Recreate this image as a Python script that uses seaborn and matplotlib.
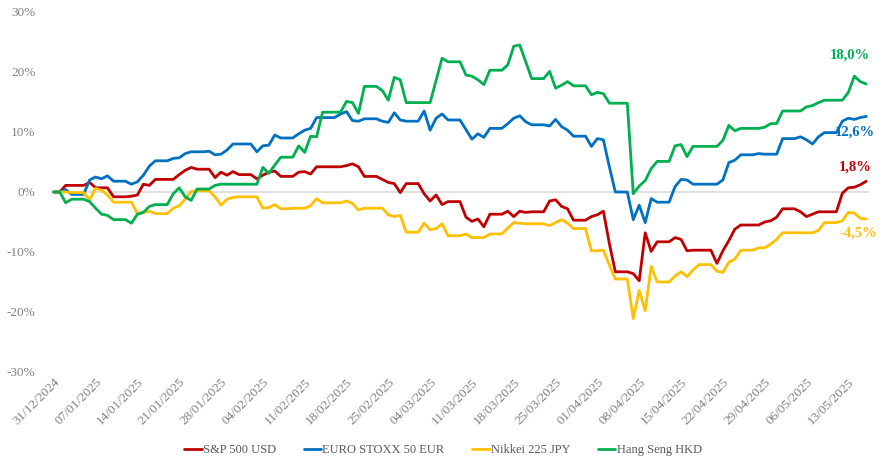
import pandas as pd
import numpy as np
import seaborn as sns
import matplotlib.pyplot as plt
import matplotlib.dates as mdates
from matplotlib.ticker import MultipleLocator, FuncFormatter

# daily performance since 31/12/2024, in %
sp500 = [0, 0, 1.1, 1.1, 1.1, 1.1, 1.6, 0.7, 0.7, 0.7, -0.8, -0.8, -0.8, -0.7,
         -0.5, 1.3, 1.1, 2.1, 2.1, 2.1, 2.1, 2.9, 3.6, 4.1, 3.8, 3.8, 3.8, 2.4,
         3.3, 2.8, 3.4, 2.9, 2.9, 2.9, 2.2, 2.8, 3.3, 3.5, 2.6, 2.6, 2.6, 3.3,
         3.4, 3.0, 4.2, 4.2, 4.2, 4.2, 4.2, 4.4, 4.7, 4.2, 2.6, 2.6, 2.6, 2.1,
         1.6, 1.4, -0.1, 1.4, 1.4, 1.4, -0.3, -1.5, -0.5, -2.1, -1.6, -1.6, -1.6, -4.2,
         -4.9, -4.5, -5.8, -3.7, -3.7, -3.7, -3.2, -4.1, -3.2, -3.4, -3.3, -3.3, -3.3, -1.5,
         -1.3, -2.4, -2.8, -4.7, -4.7, -4.7, -4.1, -3.8, -3.2, -8.6, -13.3, -13.3, -13.3, -13.6,
         -14.8, -6.8, -9.9, -8.3, -8.3, -8.3, -7.6, -7.9, -9.8, -9.7, -9.7, -9.7, -9.7, -11.9,
         -9.8, -8.1, -6.2, -5.5, -5.5, -5.5, -5.5, -5.0, -4.8, -4.2, -2.8, -2.8, -2.8, -3.3,
         -4.1, -3.7, -3.3, -3.3, -3.3, -3.3, -0.2, 0.7, 0.8, 1.2, 1.8]

stoxx50 = [0, 0, 0.4, -0.4, -0.4, -0.4, 2.0, 2.5, 2.2, 2.7, 1.8, 1.8, 1.8, 1.3,
           1.7, 2.8, 4.3, 5.2, 5.2, 5.2, 5.6, 5.7, 6.4, 6.7, 6.7, 6.7, 6.8, 6.2,
           6.3, 7.0, 8.0, 8.0, 8.0, 8.0, 6.7, 7.7, 7.8, 9.5, 9.0, 9.0, 9.0, 9.7,
           10.3, 10.6, 12.4, 12.4, 12.4, 12.4, 13.0, 13.4, 11.9, 11.8, 12.2, 12.2, 12.2, 11.8,
           11.6, 13.2, 12.0, 11.8, 11.8, 11.8, 13.5, 10.3, 12.3, 13.0, 12.0, 12.0, 12.0, 10.4,
           8.8, 9.7, 9.1, 10.6, 10.6, 10.6, 11.4, 12.3, 12.7, 11.7, 11.2, 11.2, 11.2, 11.0,
           12.1, 10.9, 10.3, 9.3, 9.3, 9.3, 7.6, 8.9, 8.7, 4.2, 0, 0, 0, -4.6,
           -2.2, -5.1, -1.1, -1.7, -1.7, -1.7, 0.9, 2.1, 2.0, 1.3, 1.3, 1.3, 1.3, 1.3,
           2.0, 4.9, 5.3, 6.2, 6.2, 6.2, 6.4, 6.3, 6.3, 6.3, 8.9, 8.9, 8.9, 9.2,
           8.7, 8.0, 9.2, 9.9, 9.9, 9.9, 11.8, 12.3, 12.1, 12.4, 12.6]

nikkei = [0, 0, 0, -0.1, -0.1, -0.1, -1.3, 0.6, 0.3, -0.5, -1.7, -1.7, -1.7, -1.7,
          -3.6, -3.4, -3.2, -3.6, -3.6, -3.6, -2.7, -2.3, -1.2, 0.1, 0.2, 0.2, 0.2, -0.8,
          -2.2, -1.2, -0.9, -0.8, -0.8, -0.8, -0.8, -2.7, -2.6, -2.1, -2.8, -2.8, -2.7, -2.7,
          -2.7, -2.3, -1.1, -1.8, -1.8, -1.8, -1.8, -1.5, -1.9, -3.0, -2.7, -2.7, -2.7, -2.7,
          -3.8, -4.1, -3.9, -6.7, -6.7, -6.7, -5.2, -6.3, -6.1, -5.3, -7.3, -7.3, -7.3, -7.0,
          -7.6, -7.6, -7.6, -7.0, -7.0, -7.0, -6.0, -5.1, -5.2, -5.3, -5.3, -5.3, -5.3, -5.6,
          -5.1, -4.6, -5.2, -6.1, -6.1, -6.1, -9.8, -9.8, -9.7, -12.2, -14.5, -14.5, -14.5, -21.1,
          -16.4, -19.8, -12.4, -15.0, -15.0, -15.0, -14.0, -13.3, -14.1, -13.0, -12.1, -12.1, -12.1, -13.2,
          -13.4, -11.7, -11.2, -9.7, -9.7, -9.7, -9.3, -9.3, -8.7, -7.9, -6.8, -6.8, -6.8, -6.8,
          -6.8, -6.8, -6.4, -5.1, -5.1, -5.1, -4.8, -3.4, -3.5, -4.4, -4.5]

hangseng = [0, 0, -1.8, -1.2, -1.2, -1.2, -1.6, -2.7, -3.7, -3.9, -4.6, -4.6, -4.6, -5.2,
            -3.7, -3.4, -2.4, -2.1, -2.1, -2.1, -0.3, 0.7, -0.8, -1.4, 0.5, 0.5, 0.5, 1.1,
            1.3, 1.3, 1.3, 1.3, 1.3, 1.3, 1.3, 4.1, 3.1, 4.5, 5.8, 5.8, 5.8, 7.7,
            6.6, 9.3, 9.2, 13.3, 13.3, 13.3, 13.3, 15.1, 14.9, 13.1, 17.6, 17.6, 17.6, 16.9,
            15.3, 19.1, 18.7, 14.9, 14.9, 14.9, 14.9, 14.9, 18.6, 22.3, 21.7, 21.7, 21.7, 19.5,
            19.3, 18.7, 17.9, 20.3, 20.3, 20.3, 21.2, 24.3, 24.5, 21.7, 18.9, 18.9, 18.9, 20.1,
            17.3, 17.8, 18.4, 17.7, 17.7, 17.7, 16.2, 16.6, 16.4, 14.8, 14.8, 14.8, 14.8, -0.3,
            1.0, 1.9, 3.9, 5.1, 5.1, 5.1, 7.7, 7.9, 5.9, 7.6, 7.6, 7.6, 7.6, 7.6,
            8.6, 11.1, 10.2, 10.6, 10.6, 10.6, 10.6, 10.8, 11.4, 11.4, 13.5, 13.5, 13.5, 13.5,
            14.2, 14.4, 14.9, 15.3, 15.3, 15.3, 15.3, 16.6, 19.3, 18.4, 18.0]

names = ['S&P 500 USD', 'EURO STOXX 50 EUR', 'Nikkei 225 JPY', 'Hang Seng HKD']
colors = ['#C00000', '#0070C0', '#FFC000', '#00B050']
end_labels = ['1,8%', '12,6%', '-4,5%', '18,0%']
label_offsets = [(-11, 14), (-11, -16), (-8, -14), (-16, 29)]

dates = pd.date_range('2024-12-31', periods=len(sp500), freq='D')
df = pd.DataFrame({'Date': dates, names[0]: sp500, names[1]: stoxx50,
                   names[2]: nikkei, names[3]: hangseng})
long = df.melt(id_vars='Date', var_name='Index', value_name='Perf')

sns.set_style('white')
plt.rcParams['font.family'] = ['Liberation Serif', 'DejaVu Serif']

fig = plt.figure(figsize=(8.86, 4.67), dpi=100)
ax = fig.add_axes([52 / 886, 1 - 372 / 467, 816 / 886, 360 / 467])

sns.lineplot(data=long, x='Date', y='Perf', hue='Index', hue_order=names,
             palette=colors, linewidth=2.0, ax=ax, zorder=3)

ax.set_ylim(-30, 30)
ax.set_xlim(dates[0] - pd.Timedelta(hours=7), dates[-1] + pd.Timedelta(hours=7))
ax.yaxis.set_major_locator(MultipleLocator(10))
ax.yaxis.set_major_formatter(FuncFormatter(lambda v, p: f'{v:.0f}%'))
ax.tick_params(axis='y', length=0, pad=12, labelsize=9.5, labelcolor='#808080')
ax.set_xlabel('')
ax.set_ylabel('')

for s in ['top', 'right', 'left']:
    ax.spines[s].set_visible(False)
ax.spines['bottom'].set_position(('data', 0))
ax.spines['bottom'].set_color('#D9D9D9')
ax.spines['bottom'].set_linewidth(1.2)
ax.spines['bottom'].set_zorder(1)

ticks = pd.date_range('2024-12-31', dates[-1], freq='7D')
ax.set_xticks(mdates.date2num(ticks))
ax.tick_params(axis='x', direction='out', length=4, width=1, color='#D9D9D9',
               labelbottom=False)

sec = ax.secondary_xaxis(0)
sec.set_xticks(mdates.date2num(ticks))
sec.xaxis.set_major_formatter(mdates.DateFormatter('%d/%m/%Y'))
sec.tick_params(length=0, pad=3, labelsize=9.5, labelcolor='#808080')
sec.spines['bottom'].set_visible(False)
for lab in sec.get_xticklabels():
    lab.set_rotation(45)
    lab.set_ha('right')
    lab.set_rotation_mode('anchor')

for vals, col, txt, off in zip([sp500, stoxx50, nikkei, hangseng], colors, end_labels, label_offsets):
    ax.annotate(txt, xy=(dates[-1], vals[-1]), xytext=off, textcoords='offset pixels',
                ha='center', va='center', color=col, fontsize=10.5, fontweight='bold')

sns.move_legend(ax, 'center', bbox_to_anchor=(0.5, 1 - 450 / 467),
                bbox_transform=fig.transFigure, ncol=4, frameon=False, title=None,
                fontsize=9, handlelength=1.4, handletextpad=0.1, columnspacing=2.2)
for t in ax.get_legend().get_texts():
    t.set_color('#595959')

fig.savefig('out.png', dpi=100)
